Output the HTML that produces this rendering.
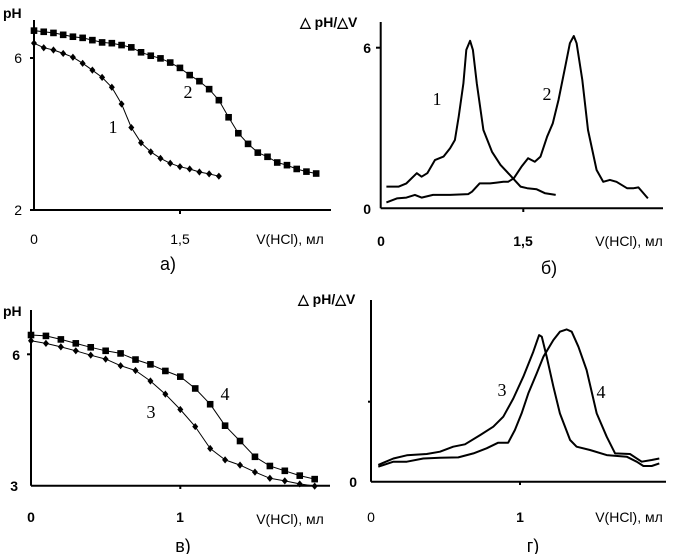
<!DOCTYPE html>
<html><head><meta charset="utf-8"><style>
body{margin:0;background:#fff}
svg{display:block;font-family:"Liberation Sans",sans-serif}
.t{font-size:14px;fill:#000}
.b{font-weight:bold}
.p{font-size:18px}
.s{font-family:"Liberation Serif",serif;font-size:18px}
</style></head><body>
<svg id="c" width="680" height="554"></svg>
<script>
const vA=[0,0.1,0.2,0.3,0.4,0.5,0.6,0.7,0.8,0.9,1.0,1.1,1.2,1.3,1.4,1.5,1.6,1.7,1.8,1.9,2.0,2.1,2.2,2.3,2.4,2.5,2.6,2.7,2.8,2.9];
const pH1=[6.39,6.27,6.21,6.12,6.02,5.86,5.68,5.49,5.23,4.79,4.17,3.77,3.53,3.36,3.23,3.14,3.08,3.0,2.95,2.89];
const pH2=[6.72,6.69,6.66,6.61,6.56,6.53,6.47,6.41,6.39,6.34,6.28,6.15,6.06,5.99,5.88,5.74,5.55,5.39,5.18,4.89,4.44,4.02,3.74,3.51,3.40,3.25,3.18,3.08,3.01,2.96];
const vB1=[0.06,0.19,0.27,0.38,0.43,0.49,0.57,0.66,0.73,0.78,0.82,0.87,0.90,0.94,0.97,1.01,1.08,1.17,1.26,1.36,1.47,1.54,1.64,1.73,1.84];
const d1=[0.81,0.81,0.93,1.31,1.18,1.31,1.80,1.93,2.24,2.55,3.42,4.66,5.91,6.25,5.91,4.66,2.92,2.11,1.62,1.24,0.81,0.75,0.71,0.56,0.50];
const vB2=[0.06,0.17,0.27,0.36,0.43,0.55,0.73,0.92,0.96,1.04,1.15,1.22,1.29,1.34,1.40,1.48,1.55,1.62,1.68,1.75,1.81,1.87,1.94,1.99,2.03,2.06,2.12,2.18,2.27,2.34,2.41,2.48,2.59,2.66,2.71,2.81];
const d2=[0.22,0.37,0.40,0.50,0.40,0.50,0.50,0.53,0.62,0.93,0.93,0.96,0.99,0.99,1.12,1.55,1.87,1.74,1.93,2.67,3.17,4.04,5.28,6.16,6.43,6.16,4.79,2.92,1.43,0.99,1.06,0.99,0.75,0.75,0.78,0.37];
const vC=[0,0.1,0.2,0.3,0.4,0.5,0.6,0.7,0.8,0.9,1.0,1.1,1.2,1.3,1.4,1.5,1.6,1.7,1.8,1.9];
const pH3=[6.31,6.25,6.17,6.08,5.98,5.89,5.74,5.63,5.39,5.09,4.74,4.35,3.85,3.59,3.47,3.31,3.17,3.11,3.04,2.99];
const pH4=[6.44,6.42,6.34,6.25,6.16,6.08,6.02,5.88,5.77,5.62,5.49,5.22,4.86,4.37,4.02,3.66,3.45,3.34,3.23,3.15];
const vD3=[0.049,0.15,0.24,0.374,0.463,0.552,0.631,0.732,0.821,0.888,0.955,1.022,1.089,1.128,1.146,1.179,1.224,1.268,1.336,1.38,1.47,1.582,1.716,1.783,1.828,1.884,1.935];
const d3=[0.21,0.29,0.33,0.346,0.375,0.438,0.467,0.583,0.688,0.813,1.04,1.313,1.625,1.833,1.813,1.563,1.188,0.854,0.521,0.438,0.396,0.333,0.313,0.25,0.196,0.196,0.229];
const vD4=[0.049,0.15,0.24,0.351,0.463,0.586,0.687,0.776,0.854,0.921,0.966,1.011,1.056,1.112,1.157,1.224,1.268,1.313,1.347,1.392,1.447,1.515,1.582,1.638,1.738,1.817,1.884,1.935];
const d4=[0.188,0.25,0.25,0.29,0.3,0.304,0.354,0.417,0.488,0.488,0.646,0.854,1.104,1.354,1.563,1.771,1.875,1.904,1.875,1.688,1.396,0.854,0.563,0.354,0.346,0.25,0.271,0.29];

const svg=document.getElementById('c');const NS='http://www.w3.org/2000/svg';
function el(t,a,p){const e=document.createElementNS(NS,t);for(const k in a)e.setAttribute(k,a[k]);(p||svg).appendChild(e);return e;}
function txt(x,y,s,cls,name,anchor){const e=el('text',{x:x,y:y,class:cls,'text-anchor':anchor||'start'});e.textContent=s;

return e;}
function mk(x0,px,y0,yv0,py){return{x:v=>x0+v*px,y:v=>y0-(v-yv0)*py};}
function axes(x0,y0,top,right,name){const g=el('g',{});


el('line',{x1:x0,y1:top,x2:x0,y2:y0,stroke:'#000','stroke-width':2},g);
el('line',{x1:x0,y1:y0,x2:right,y2:y0,stroke:'#000','stroke-width':2},g);return g;}
function line(sc,xs,ys,w,name){const p=xs.slice(0,ys.length).map((v,i)=>sc.x(v).toFixed(1)+','+sc.y(ys[i]).toFixed(1)).join(' ');
const e=el('polyline',{points:p,fill:'none',stroke:'#000','stroke-width':w,'stroke-linejoin':'round'});

return e;}
function marks(sc,xs,ys,shape,name){const g=el('g',{});


ys.forEach((v,i)=>{const x=sc.x(xs[i]),y=sc.y(v);
if(shape==='sq')el('rect',{x:x-3.3,y:y-3.3,width:6.6,height:6.6,fill:'#000'},g);
else el('polygon',{points:`${x},${y-3.6} ${x+3},${y} ${x},${y+3.6} ${x-3},${y}`,fill:'#000'},g);});}
function tick(x1,y1,x2,y2){el('line',{x1,y1,x2,y2,stroke:'#000','stroke-width':2});}

// Panel a
const A=mk(34,97.3,210,2,38);
axes(34,210,20,331,'axes-a');tick(30,58,34,58);tick(30,210,34,210);tick(180,210,180,214);
line(A,vA,pH1,1,'curve-1');marks(A,vA,pH1,'di','markers-1');
line(A,vA,pH2,1,'curve-2');marks(A,vA,pH2,'sq','markers-2');
txt(3,18,'pH','t b','y-axis-title-a');txt(22,63,'6','t','y-tick-6-a','end');txt(22,215,'2','t','y-tick-2-a','end');
txt(34,244,'0','t','x-tick-0-a','middle');txt(180,244,'1,5','t','x-tick-15-a','middle');
txt(290,244,'V(HCl), мл','t','x-axis-title-a','middle');txt(168,270,'а)','t p','panel-label-a','middle');
txt(113,133,'1','s','label-curve-1','middle');txt(188,98,'2','s','label-curve-2','middle');

// Panel b
const B=mk(380.7,95.1,208.3,0,26.8);
axes(380.7,208.3,22,663,'axes-b');tick(376,47.7,380.7,47.7);tick(523.3,208.3,523.3,212);
line(B,vB1,d1,2,'derivative-1');line(B,vB2,d2,2,'derivative-2');
txt(300,27,'△ pH/△V','t b','y-axis-title-b');txt(371,53,'6','t b','y-tick-6-b','end');txt(371,214,'0','t b','y-tick-0-b','end');
txt(381,246,'0','t b','x-tick-0-b','middle');txt(523,246,'1,5','t b','x-tick-15-b','middle');
txt(629,246,'V(HCl), мл','t','x-axis-title-b','middle');txt(549,274,'б)','t p','panel-label-b','middle');
txt(437,105,'1','s','label-derivative-1','middle');txt(547,100,'2','s','label-derivative-2','middle');

// Panel c
const C=mk(31,149.3,485.7,3,43.8);
axes(31,485.7,310,330,'axes-c');tick(27,354.3,31,354.3);tick(180.3,485.7,180.3,489);
line(C,vC,pH3,1,'curve-3');marks(C,vC,pH3,'di','markers-3');
line(C,vC,pH4,1,'curve-4');marks(C,vC,pH4,'sq','markers-4');
txt(3,316,'pH','t b','y-axis-title-c');txt(20,360,'6','t b','y-tick-6-c','end');txt(18,491,'3','t b','y-tick-3-c','end');
txt(31,522,'0','t b','x-tick-0-c','middle');txt(180,522,'1','t b','x-tick-1-c','middle');
txt(290,524,'V(HCl), мл','t','x-axis-title-c','middle');txt(183,552,'в)','t p','panel-label-c','middle');
txt(151,418,'3','s','label-curve-3','middle');txt(225,400,'4','s','label-curve-4','middle');

// Panel d
const D=mk(371,149,481.7,0,80);
axes(371,481.7,300,666,'axes-d');tick(368,401.7,371,401.7);tick(520,481.7,520,485);
line(D,vD3,d3,2,'derivative-3');line(D,vD4,d4,2,'derivative-4');
txt(298,304,'△ pH/△V','t b','y-axis-title-d');txt(357,487,'0','t b','y-tick-0-d','end');
txt(371,522,'0','t','x-tick-0-d','middle');txt(520,522,'1','t b','x-tick-1-d','middle');
txt(629,522,'V(HCl), мл','t','x-axis-title-d','middle');txt(533,552,'г)','t p','panel-label-d','middle');
txt(502,396,'3','s','label-derivative-3','middle');txt(601,398,'4','s','label-derivative-4','middle');
</script></body></html>
